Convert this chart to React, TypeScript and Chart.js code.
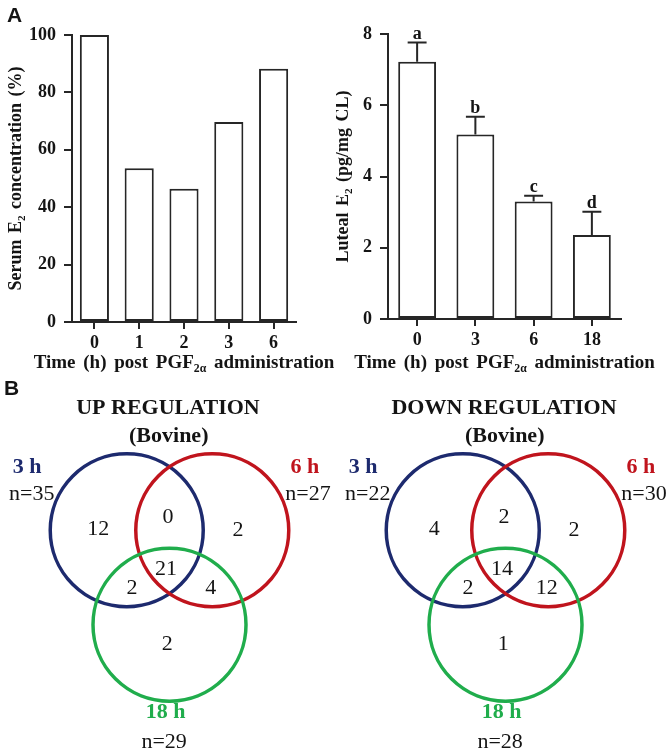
import React, { useEffect, useRef } from 'react';
import { Chart, registerables } from 'chart.js';

Chart.register(...registerables);

// ---------------- data ----------------
const serumCategories = ['0', '1', '2', '3', '6'];
const serumValues = [100, 53.6, 46.4, 69.7, 88.2];
const serumTicks = [0, 20, 40, 60, 80, 100];

const lutealCategories = ['0', '3', '6', '18'];
const lutealMeans = [7.22, 5.18, 3.3, 2.36];
const lutealErrors = [0.54, 0.5, 0.16, 0.65];
const lutealLetters = ['a', 'b', 'c', 'd'];
const lutealTicks = [0, 2, 4, 6, 8];

const vennSetNames = ['3 h', '6 h', '18 h'];
const upTotals = [35, 27, 29];
const downTotals = [22, 30, 28];
// regions: 3h only, 6h only, 18h only, 3h∩6h, 3h∩18h, 6h∩18h, all three
const upCounts = [12, 2, 2, 0, 2, 4, 21];
const downCounts = [4, 2, 1, 2, 2, 12, 14];

// ---------------- style ----------------
const SERIF = '"Liberation Serif", "Times New Roman", serif';
const SANS = '"Liberation Sans", Arial, sans-serif';
const INK = '#141414';
const AXIS = '#262626';
const vennColors = ['#1d2a6e', '#c0141d', '#20ad4c'];

// Venn layout in units of circle radius
const VENN = {
  unitPx: 76.5,
  originX: 169.5,
  originY: 150.25,
  circles: [[-0.559, 0], [0.559, 0], [0, -1.235]],
  regions: [[-0.93, 0.01], [0.895, 0], [-0.03, -1.49], [-0.02, 0.167], [-0.49, -0.755], [0.54, -0.752], [-0.045, -0.51]],
  setLabels: [[-1.86, 0.82], [1.77, 0.82], [-0.05, -2.375]],
  totals: [[-1.8, 0.466], [1.81, 0.466], [-0.07, -2.765]],
  title: [-0.02, 1.59],
  subtitle: [-0.01, 1.232],
};

type Seg = { t: string; sub?: boolean };

function drawRich(ctx: CanvasRenderingContext2D, segs: Seg[], cx: number, cy: number, size: number, ws: number, rotate: boolean) {
  ctx.save();
  ctx.translate(cx, cy);
  if (rotate) ctx.rotate(-Math.PI / 2);
  ctx.fillStyle = INK;
  ctx.textBaseline = 'alphabetic';
  ctx.textAlign = 'left';
  const pieces: { text: string; font: string; dy: number; w: number }[] = [];
  segs.forEach((s) => {
    const fs = s.sub ? size * 0.62 : size;
    const font = `bold ${fs}px ${SERIF}`;
    const dy = s.sub ? size * 0.2 : 0;
    ctx.font = font;
    const parts = s.t.split(' ');
    parts.forEach((w, k) => {
      if (k > 0) pieces.push({ text: '', font, dy, w: ctx.measureText(' ').width + ws });
      if (w) pieces.push({ text: w, font, dy, w: ctx.measureText(w).width });
    });
  });
  const total = pieces.reduce((a, p) => a + p.w, 0);
  let x = -total / 2;
  pieces.forEach((p) => {
    if (p.text) {
      ctx.font = p.font;
      ctx.fillText(p.text, x, p.dy);
    }
    x += p.w;
  });
  ctx.restore();
}

const xTitle: Seg[] = [{ t: 'Time (h) post PGF' }, { t: '2α', sub: true }, { t: ' administration' }];
const serumYTitle: Seg[] = [{ t: 'Serum E' }, { t: '2', sub: true }, { t: ' concentration (%)' }];
const lutealYTitle: Seg[] = [{ t: 'Luteal E' }, { t: '2', sub: true }, { t: ' (pg/mg CL)' }];

function titlesPlugin(xt: Seg[], yt: Seg[], xBase: number, yBase: number) {
  return {
    id: 'axisTitles',
    afterDraw(chart: any) {
      const { ctx, chartArea } = chart;
      drawRich(ctx, xt, (chartArea.left + chartArea.right) / 2, xBase, 19, 3, false);
      drawRich(ctx, yt, yBase, (chartArea.top + chartArea.bottom) / 2, 18, 2, true);
    },
  };
}

const errorBarPlugin = {
  id: 'errorBars',
  afterDatasetsDraw(chart: any) {
    const { ctx } = chart;
    const meta = chart.getDatasetMeta(0);
    const yScale = chart.scales.y;
    ctx.save();
    ctx.strokeStyle = AXIS;
    ctx.lineWidth = 2;
    meta.data.forEach((bar: any, i: number) => {
      const { x, y, width } = bar.getProps(['x', 'y', 'width'], true);
      const yTop = yScale.getPixelForValue(lutealMeans[i] + lutealErrors[i]);
      ctx.beginPath();
      ctx.moveTo(x, y);
      ctx.lineTo(x, yTop);
      ctx.moveTo(x - width / 4, yTop);
      ctx.lineTo(x + width / 4, yTop);
      ctx.stroke();
      ctx.fillStyle = INK;
      ctx.font = `bold 18px ${SERIF}`;
      ctx.textAlign = 'center';
      ctx.textBaseline = 'alphabetic';
      ctx.fillText(lutealLetters[i], x, yTop - 4);
    });
    ctx.restore();
  },
};

type BarParams = {
  labels: string[];
  values: number[];
  max: number;
  ticks: number[];
  padding: { top: number; right: number; bottom: number; left: number };
  xAxisHeight: number;
  yAxisWidth: number;
  yTitle: Seg[];
  xTitleBase: number;
  yTitleBase: number;
  extra?: any[];
};

function makeBar(canvas: HTMLCanvasElement, p: BarParams) {
  const tickFont = { family: SERIF, size: 18, weight: 'bold' as const };
  return new Chart(canvas, {
    type: 'bar',
    data: {
      labels: p.labels,
      datasets: [
        {
          data: p.values,
          backgroundColor: '#ffffff',
          borderColor: AXIS,
          borderWidth: 2,
          borderSkipped: false,
          barPercentage: 0.65,
          categoryPercentage: 1,
        },
      ],
    },
    options: {
      animation: false,
      responsive: false,
      events: [],
      layout: { padding: p.padding },
      plugins: { legend: { display: false }, tooltip: { enabled: false } },
      scales: {
        x: {
          grid: { display: true, drawOnChartArea: false, drawTicks: true, tickLength: 7, offset: false, color: AXIS, lineWidth: 2 },
          border: { display: true, color: AXIS, width: 2 },
          ticks: { color: INK, font: tickFont, padding: 4, maxRotation: 0, autoSkip: false },
          afterFit: (s: any) => {
            s.height = p.xAxisHeight;
          },
        },
        y: {
          min: 0,
          max: p.max,
          afterBuildTicks: (s: any) => {
            s.ticks = p.ticks.map((v) => ({ value: v }));
          },
          grid: { display: true, drawOnChartArea: false, drawTicks: true, tickLength: 8, color: AXIS, lineWidth: 2 },
          border: { display: true, color: AXIS, width: 2 },
          ticks: { color: INK, font: tickFont, padding: 8 },
          afterFit: (s: any) => {
            s.width = p.yAxisWidth;
          },
        },
      },
    },
    plugins: [titlesPlugin(xTitle, p.yTitle, p.xTitleBase, p.yTitleBase), ...(p.extra || [])],
  } as any);
}

function makeVenn(canvas: HTMLCanvasElement, title: string, counts: number[], totals: number[]) {
  const W = canvas.width;
  const H = canvas.height;
  const u = VENN.unitPx;
  const textPlugin = {
    id: 'vennText',
    afterDatasetsDraw(chart: any) {
      const { ctx } = chart;
      const xs = chart.scales.x;
      const ys = chart.scales.y;
      const px = (pt: number[]) => [xs.getPixelForValue(pt[0]), ys.getPixelForValue(pt[1])];
      ctx.save();
      ctx.textAlign = 'center';
      ctx.textBaseline = 'middle';
      ctx.fillStyle = INK;
      ctx.font = `bold 22px ${SERIF}`;
      let q = px(VENN.title);
      ctx.fillText(title, q[0], q[1]);
      q = px(VENN.subtitle);
      ctx.fillText('(Bovine)', q[0], q[1]);
      vennSetNames.forEach((name, i) => {
        ctx.font = `bold 22px ${SERIF}`;
        ctx.fillStyle = vennColors[i];
        const a = px(VENN.setLabels[i]);
        ctx.fillText(name, a[0], a[1]);
        ctx.font = `22px ${SERIF}`;
        ctx.fillStyle = INK;
        const b = px(VENN.totals[i]);
        ctx.fillText(`n=${totals[i]}`, b[0], b[1]);
      });
      ctx.font = `22px ${SERIF}`;
      ctx.fillStyle = INK;
      counts.forEach((c, i) => {
        const r = px(VENN.regions[i]);
        ctx.fillText(String(c), r[0], r[1]);
      });
      ctx.restore();
    },
  };
  return new Chart(canvas, {
    type: 'bubble',
    data: {
      datasets: [
        {
          // each circle has radius 1 layout unit = unitPx pixels
          data: VENN.circles.map(([cx, cy]) => ({ x: cx, y: cy, r: u })),
          borderColor: vennColors,
          backgroundColor: 'rgba(0,0,0,0)',
          borderWidth: 3.5,
          clip: false,
        },
      ],
    },
    options: {
      animation: false,
      responsive: false,
      events: [],
      layout: { padding: 0, autoPadding: false },
      plugins: { legend: { display: false }, tooltip: { enabled: false } },
      scales: {
        x: { type: 'linear', display: false, min: -VENN.originX / u, max: (W - VENN.originX) / u },
        y: { type: 'linear', display: false, min: -(H - VENN.originY) / u, max: VENN.originY / u },
      },
    },
    plugins: [textPlugin],
  } as any);
}

function ChartCanvas({ make, left, top, width, height }: { make: (c: HTMLCanvasElement) => Chart; left: number; top: number; width: number; height: number }) {
  const ref = useRef<HTMLCanvasElement>(null);
  useEffect(() => {
    const chart = make(ref.current as HTMLCanvasElement);
    return () => chart.destroy();
  }, []);
  return <canvas ref={ref} width={width} height={height} style={{ position: 'absolute', left, top, width, height }} />;
}

export default function App() {
  return (
    <div style={{ position: 'absolute', left: 0, top: 0, width: 672, height: 752, background: '#fff', overflow: 'hidden' }}>
      <ChartCanvas
        left={0}
        top={0}
        width={336}
        height={380}
        make={(c) =>
          makeBar(c, {
            labels: serumCategories,
            values: serumValues,
            max: 100,
            ticks: serumTicks,
            padding: { top: 35, right: 40, bottom: 0, left: 0 },
            xAxisHeight: 58,
            yAxisWidth: 72,
            yTitle: serumYTitle,
            xTitleBase: 368,
            yTitleBase: 21,
          })
        }
      />
      <ChartCanvas
        left={336}
        top={0}
        width={336}
        height={380}
        make={(c) =>
          makeBar(c, {
            labels: lutealCategories,
            values: lutealMeans,
            max: 8,
            ticks: lutealTicks,
            padding: { top: 34, right: 51, bottom: 0, left: 0 },
            xAxisHeight: 61,
            yAxisWidth: 52,
            yTitle: lutealYTitle,
            xTitleBase: 368,
            yTitleBase: 12,
            extra: [errorBarPlugin],
          })
        }
      />
      <ChartCanvas left={0} top={380} width={336} height={372} make={(c) => makeVenn(c, 'UP REGULATION', upCounts, upTotals)} />
      <ChartCanvas left={336} top={380} width={336} height={372} make={(c) => makeVenn(c, 'DOWN REGULATION', downCounts, downTotals)} />
      <div style={{ position: 'absolute', left: 7, top: 4, font: `bold 21px ${SANS}`, lineHeight: 1, color: INK }}>A</div>
      <div style={{ position: 'absolute', left: 4, top: 377, font: `bold 21px ${SANS}`, lineHeight: 1, color: INK }}>B</div>
    </div>
  );
}
